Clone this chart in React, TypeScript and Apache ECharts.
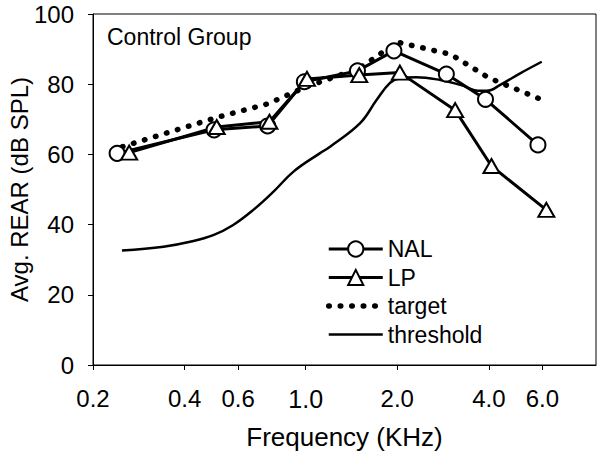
import React, { useEffect, useRef } from 'react';
import * as echarts from 'echarts';

// Frequency ticks (kHz) and y ticks
const xTickValues = [0.2, 0.4, 0.6, 1.0, 2.0, 4.0, 6.0];
const xMin = 0.2;
const xMax = 9;
const yMin = 0;
const yMax = 100;
const yInterval = 20;

// NAL
const nalFreq = [0.24, 0.5, 0.75, 0.99, 1.48, 1.95, 2.9, 3.9, 5.8];
const nalLevel = [60.3, 67.0, 68.1, 80.7, 83.8, 89.5, 82.9, 75.7, 62.7];

// LP
const lpFreq = [0.263, 0.51, 0.76, 1.01, 1.5, 2.04, 3.1, 4.08, 6.18];
const lpLevel = [60.5, 67.8, 69.3, 81.5, 82.6, 83.3, 72.6, 56.7, 44.2];

// target
const targetFreq = [0.25, 0.5, 0.75, 1.0, 1.5, 2.0, 3.0, 4.0, 6.0];
const targetLevel = [62.2, 70.3, 74.4, 79.2, 84.5, 92.0, 88.5, 81.8, 75.5];

// threshold
const thrFreq = [0.249, 0.341, 0.417, 0.497, 0.578, 0.673, 0.784, 0.912, 1.112, 1.203, 1.51, 1.71, 1.89, 2.04, 2.31, 2.77, 3.22, 3.74, 3.94, 4.36, 5.07, 5.97];
const thrLevel = [32.6, 33.7, 35.1, 37.0, 39.9, 44.2, 49.4, 55.1, 60.3, 62.2, 68.9, 75.5, 80.3, 81.7, 82.0, 81.2, 79.8, 78.1, 78.1, 79.8, 83.1, 86.4];

const lg = (f: number) => Math.log10(f);
const pts = (fs: number[], vs: number[]) => fs.map((f, i) => [lg(f), vs[i]]);

const NARROW = "'Liberation Sans Narrow', 'Arial Narrow', 'Liberation Sans', Arial, sans-serif";
const SANS = "'Liberation Sans', Arial, sans-serif";

export default function App() {
  const ref = useRef<HTMLDivElement>(null);
  useEffect(() => {
    document.body.style.margin = '0';
    const chart = echarts.init(ref.current!, null, { renderer: 'svg' });
    const markerStyle = { color: '#fff', borderColor: '#000', borderWidth: 2 };
    const noSymbol = { color: 'rgba(0,0,0,0)', borderWidth: 0, opacity: 0 };
    const dotted = { color: '#000', width: 5.5, type: [0.5, 11], cap: 'round' };
    chart.setOption({
      animation: false,
      backgroundColor: '#fff',
      title: {
        text: 'Control Group',
        left: 107,
        top: 25,
        padding: 0,
        textStyle: { fontFamily: SANS, fontSize: 23, fontWeight: 'normal', color: '#000' },
      },
      grid: {
        left: 93,
        right: 5,
        top: 14,
        bottom: 94,
        containLabel: false,
        outerBoundsMode: 'none',
        show: true,
        borderColor: '#000',
        borderWidth: 1,
        backgroundColor: 'transparent',
      },
      legend: {
        orient: 'vertical',
        left: 321,
        top: 232,
        itemWidth: 54,
        itemHeight: 19,
        itemGap: 4.5,
        data: [
          { name: 'NAL', lineStyle: { width: 3, color: '#000' } },
          { name: 'LP', lineStyle: { width: 3, color: '#000' } },
          { name: 'target', itemStyle: noSymbol, lineStyle: dotted },
          { name: 'threshold', itemStyle: noSymbol, lineStyle: { width: 2.5, color: '#000' } },
        ],
        textStyle: { fontFamily: SANS, fontSize: 23, color: '#000', lineHeight: 24 },
      },
      xAxis: {
        type: 'value',
        min: lg(xMin),
        max: lg(xMax),
        name: 'Frequency (KHz)',
        nameLocation: 'middle',
        nameGap: 59,
        nameMoveOverlap: false,
        nameTextStyle: { fontFamily: SANS, fontSize: 26, color: '#000' },
        axisLine: { show: true, onZero: false, lineStyle: { color: '#000', width: 1 } },
        axisTick: { show: true, inside: false, length: 5, customValues: xTickValues.map(lg), lineStyle: { color: '#000' } },
        axisLabel: {
          customValues: xTickValues.map(lg),
          margin: 21,
          fontFamily: NARROW,
          fontSize: 24,
          color: '#000',
          formatter: (v: number) => {
            const s = Math.pow(10, v).toFixed(1);
            return s === '1.0' ? '{r|1.0}' : s;
          },
          rich: { r: { fontFamily: SANS, fontSize: 25, color: '#000' } },
        },
        splitLine: { show: false },
      },
      yAxis: {
        type: 'value',
        min: yMin,
        max: yMax,
        interval: yInterval,
        name: 'Avg. REAR (dB SPL)',
        nameLocation: 'middle',
        nameGap: 62,
        nameMoveOverlap: false,
        nameTextStyle: { fontFamily: SANS, fontSize: 24, color: '#000' },
        axisLine: { show: true, onZero: false, lineStyle: { color: '#000', width: 1 } },
        axisTick: { show: true, inside: false, length: 5, lineStyle: { color: '#000' } },
        axisLabel: { margin: 19, fontFamily: NARROW, fontSize: 24, color: '#000' },
        splitLine: { show: false },
      },
      series: [
        {
          name: 'target',
          type: 'line',
          data: pts(targetFreq, targetLevel),
          symbol: 'none',
          lineStyle: dotted,
          itemStyle: { color: '#000' },
        },
        {
          name: 'threshold',
          type: 'line',
          data: pts(thrFreq, thrLevel),
          symbol: 'none',
          smooth: 0.4,
          lineStyle: { color: '#000', width: 2.5 },
          itemStyle: { color: '#000' },
        },
        {
          name: 'NAL',
          type: 'line',
          data: pts(nalFreq, nalLevel),
          symbol: 'circle',
          symbolSize: 15,
          lineStyle: { color: '#000', width: 3 },
          itemStyle: markerStyle,
        },
        {
          name: 'LP',
          type: 'line',
          data: pts(lpFreq, lpLevel),
          symbol: 'triangle',
          symbolSize: [16, 14],
          lineStyle: { color: '#000', width: 3 },
          itemStyle: markerStyle,
        },
      ],
    });
    return () => chart.dispose();
  }, []);
  return <div ref={ref} style={{ width: 601, height: 459 }} />;
}
